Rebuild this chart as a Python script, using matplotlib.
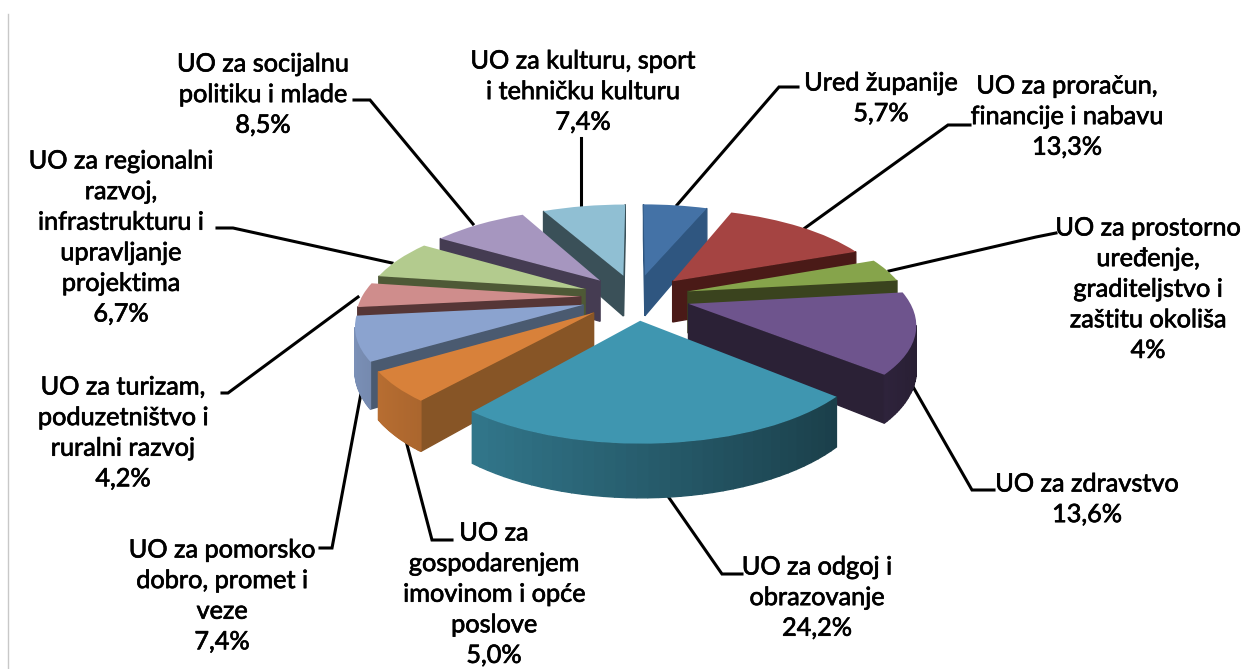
import numpy as np
import matplotlib
matplotlib.use("Agg")
import matplotlib.pyplot as plt
from matplotlib.patches import Polygon
from matplotlib.transforms import Transform
import matplotlib.patheffects as pe

names = ["Ured županije", "UO za proračun,\nfinancije i nabavu",
         "UO za prostorno\nuređenje,\ngraditeljstvo i\nzaštitu okoliša",
         "UO za zdravstvo", "UO za odgoj i\nobrazovanje",
         "UO za\ngospodarenjem\nimovinom i opće\nposlove",
         "UO za pomorsko\ndobro, promet i\nveze",
         "UO za turizam,\npoduzetništvo i\nruralni razvoj",
         "UO za regionalni\nrazvoj,\ninfrastrukturu i\nupravljanje\nprojektima",
         "UO za socijalnu\npolitiku i mlade",
         "UO za kulturu, sport\ni tehničku kulturu"]
values = [5.7, 13.3, 4.0, 13.6, 24.2, 5.0, 7.4, 4.2, 6.7, 8.5, 7.4]
value_labels = ["5,7%", "13,3%", "4%", "13,6%", "24,2%", "5,0%", "7,4%", "4,2%", "6,7%", "8,5%", "7,4%"]
top_colors = ["#4472A6", "#A54442", "#86A44B", "#6E548D", "#3F96B0", "#D8813A",
              "#8BA3CF", "#CF8D8C", "#B3CB8E", "#A696BF", "#90BFD3"]
wall_colors = ["#2F5680", "#4A1A17", "#3A431E", "#2B2136", "#1B3C47", "#875526",
               "#4A5A70", "#563636", "#4E5936", "#453C52", "#3A5058"]
label_centers = [(881, 83), (1067, 86), (1148, 228), (1087, 484), (817, 567), (494, 533),
                 (222, 550), (123, 387), (121, 161), (263, 64), (583, 61)]
leaders = [[(798, 87), (779, 87), (677, 205)],
           [(970, 125), (948, 125), (805, 228)],
           [(1056, 233), (1036, 237), (889, 271)],
           [(994, 490), (972, 490), (908, 378)],
           [(742, 574), (722, 574), (665, 492)],
           [(452, 540), (432, 540), (405, 437)],
           [(320, 548), (332, 548), (362, 388)],
           [(222, 393), (228, 393), (358, 297)],
           [(217, 228), (233, 228), (392, 263)],
           [(354, 100), (370, 100), (473, 224)],
           [(581, 138), (581, 205)]]

XC, YC, A, B, K, DEPTH = 635.5, 297.0, 219.0, 91.0, 0.18, 42.0
EXPLODE = 0.25
LINE_PITCH = 30.6


def project(u, v, z=0.0):
    u, v = np.asarray(u, float), np.asarray(v, float)
    w = 1 + K * v
    return XC + A * u / w, YC - (B * v - DEPTH * z) / w


class Persp(Transform):
    input_dims = output_dims = 2
    is_separable = False
    has_inverse = False

    def transform_non_affine(self, values):
        v = np.asarray(values, float)
        x, y = project(v[:, 0], v[:, 1])
        return np.column_stack([x, y])


def darker(c, f):
    r = np.array(matplotlib.colors.to_rgb(c)) * f
    return tuple(np.clip(r, 0, 1))


fig = plt.figure(figsize=(12.44, 6.69), dpi=100, facecolor="white")
ax = fig.add_axes([0, 0, 1, 1])
wedges, _ = ax.pie(values, explode=[EXPLODE] * len(values), colors=top_colors,
                   startangle=90, counterclock=False, radius=1.0, frame=False,
                   normalize=True)
ax.set_aspect("auto")
ax.set_xlim(0, 1244)
ax.set_ylim(669, 0)
ax.axis("off")

ax.plot([8, 8], [14, 669], color="#C8C8C8", lw=1.0, zorder=0)
for pts in leaders:
    xs, ys = zip(*pts)
    ax.plot(xs, ys, color="black", lw=2.2, solid_joinstyle="miter", zorder=1)


def quad(p, q, color, z):
    """Extruded side face under the top edge p->q (front-facing only)."""
    (x0, y0), (x1, y1) = project(*p), project(*q)
    if x1 >= x0:
        return
    (x2, y2), (x3, y3) = project(*q, 1.0), project(*p, 1.0)
    ax.add_patch(Polygon([(x0, y0), (x1, y1), (x2, y2), (x3, y3)], closed=True,
                         facecolor=color, edgecolor=color, lw=1.0, zorder=z))


persp = Persp()
mids = [np.deg2rad((w.theta1 + w.theta2) / 2) for w in wedges]
order = sorted(range(len(wedges)), key=lambda i: -np.sin(mids[i]))
for rank, i in enumerate(order):
    w = wedges[i]
    cx, cy = w.center
    base = 2 + rank * 2
    t1, t2 = np.deg2rad(w.theta1), np.deg2rad(w.theta2)
    ts = np.linspace(t2, t1, 40)           # clockwise on screen, from above
    arc = [(cx + np.cos(t), cy + np.sin(t)) for t in ts]
    quad((cx, cy), arc[0], wall_colors[i], base)
    quad(arc[-1], (cx, cy), wall_colors[i], base)
    for a, b, t in zip(arc[:-1], arc[1:], (ts[:-1] + ts[1:]) / 2):
        # outer wall: light toward the left, dark toward the right
        f = 0.62 - 0.27 * np.cos(t)
        quad(a, b, darker(top_colors[i], f), base)
    w.set_transform(persp + ax.transData)
    w.set_zorder(base + 1)
    w.set_edgecolor("none")

for name, val, (cx, cy) in zip(names, value_labels, label_centers):
    for j, line in enumerate((name + "\n" + val).split("\n")):
        t = ax.text(cx, cy + j * LINE_PITCH, line, ha="center", va="center",
                    fontsize=18.2, family="Lato", color="black", zorder=40)
        t.set_path_effects([pe.withStroke(linewidth=0.5, foreground="black")])

fig.savefig("out.png", dpi=100, facecolor="white")
